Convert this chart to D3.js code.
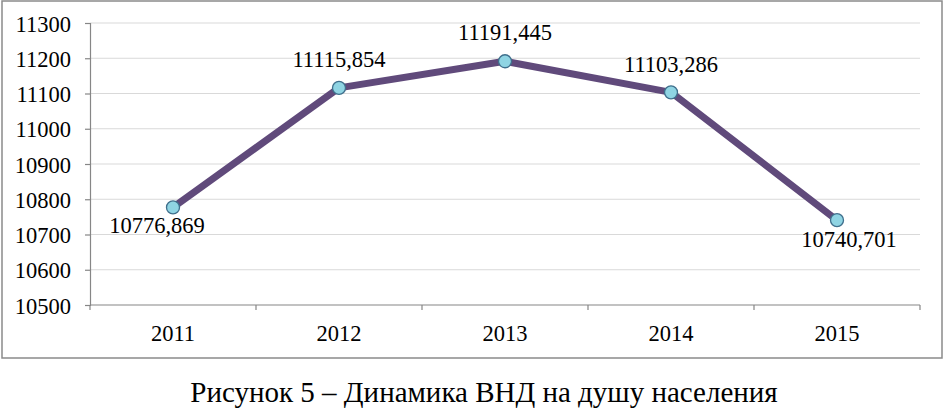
<!DOCTYPE html>
<html><head><meta charset="utf-8">
<script src="https://cdn.jsdelivr.net/npm/d3@7"></script>
<style>
html,body{margin:0;padding:0;background:#fff;}
svg{display:block;}
</style></head>
<body>
<svg id="c" width="944" height="410"></svg>
<script>
(function(){
const years = ["2011","2012","2013","2014","2015"];
const values = [10776.869, 11115.854, 11191.445, 11103.286, 10740.701];
const labels = ["10776,869","11115,854","11191,445","11103,286","10740,701"];
const yTicks = [10500,10600,10700,10800,10900,11000,11100,11200,11300];
const caption = "Рисунок 5 – Динамика ВНД на душу населения";

const FONT = '"Liberation Serif", "Times New Roman", serif';
const svg = d3.select("#c");
const mLeft = 90, mRight = 920, mTop = 23, mBottom = 305;

svg.append("rect").attr("x",2).attr("y",1).attr("width",940).attr("height",357)
  .attr("fill","#fff").attr("stroke","#8a8a8a").attr("stroke-width",1.5);

const x = d3.scaleBand().domain(years).range([mLeft,mRight]).paddingInner(0).paddingOuter(0);
const y = d3.scaleLinear().domain([10500,11300]).range([mBottom,mTop]);

// gridlines
svg.append("g").selectAll("line").data(yTicks.slice(1)).join("line")
  .attr("x1",mLeft).attr("x2",mRight).attr("y1",d=>y(d)).attr("y2",d=>y(d))
  .attr("stroke","#d9d9d9").attr("stroke-width",1.2);

// y axis
const yAxis = d3.axisLeft(y).tickValues(yTicks).tickSize(5).tickPadding(14).tickFormat(d3.format("d"));
const gy = svg.append("g").attr("transform",`translate(${mLeft},0)`).call(yAxis);
gy.select(".domain").attr("stroke","#868686").attr("stroke-width",1.2);
gy.selectAll(".tick line").attr("stroke","#868686").attr("stroke-width",1.2);
gy.selectAll("text").style("font-size","22.5px").style("font-family",FONT).attr("fill","#000").attr("dy","0.36em");

// x axis
const gx = svg.append("g").attr("transform",`translate(0,${mBottom})`);
gx.append("line").attr("x1",mLeft).attr("x2",mRight).attr("y1",0).attr("y2",0)
  .attr("stroke","#868686").attr("stroke-width",1.2);
const bounds = years.map(d=>x(d)).concat([x(years[years.length-1])+x.bandwidth()]);
gx.selectAll("line.t").data(bounds).join("line").attr("class","t")
  .attr("x1",d=>d).attr("x2",d=>d).attr("y1",0).attr("y2",5)
  .attr("stroke","#868686").attr("stroke-width",1.2);
gx.selectAll("text").data(years).join("text")
  .attr("x",d=>x(d)+x.bandwidth()/2).attr("y",36)
  .attr("text-anchor","middle").style("font-size","22.5px").style("font-family",FONT).attr("fill","#000").text(d=>d);

// line
const data = years.map((yr,i)=>({yr, v:values[i], l:labels[i]}));
const line = d3.line().x(d=>x(d.yr)+x.bandwidth()/2).y(d=>y(d.v));
svg.append("path").datum(data).attr("d",line).attr("fill","none")
  .attr("stroke","#604a7b").attr("stroke-width",7).attr("stroke-linejoin","round");

svg.selectAll("circle.m").data(data).join("circle").attr("class","m")
  .attr("cx",d=>x(d.yr)+x.bandwidth()/2).attr("cy",d=>y(d.v)).attr("r",6.5)
  .attr("fill","#8fd4e3").attr("stroke","#3f6f8c").attr("stroke-width",1.3);

// data labels
const offs = [[-16,26],[0,-21],[0,-21],[0,-20],[12,27]];
svg.selectAll("text.dl").data(data).join("text").attr("class","dl")
  .attr("x",(d,i)=>x(d.yr)+x.bandwidth()/2+offs[i][0])
  .attr("y",(d,i)=>y(d.v)+offs[i][1])
  .attr("text-anchor","middle").style("font-size","22.5px").style("font-family",FONT).attr("fill","#000").text(d=>d.l);

// caption
svg.append("text").attr("x",484).attr("y",402).attr("text-anchor","middle")
  .style("font-size","29px").style("font-family",FONT).attr("fill","#000").text(caption);
})();
</script>
</body></html>
